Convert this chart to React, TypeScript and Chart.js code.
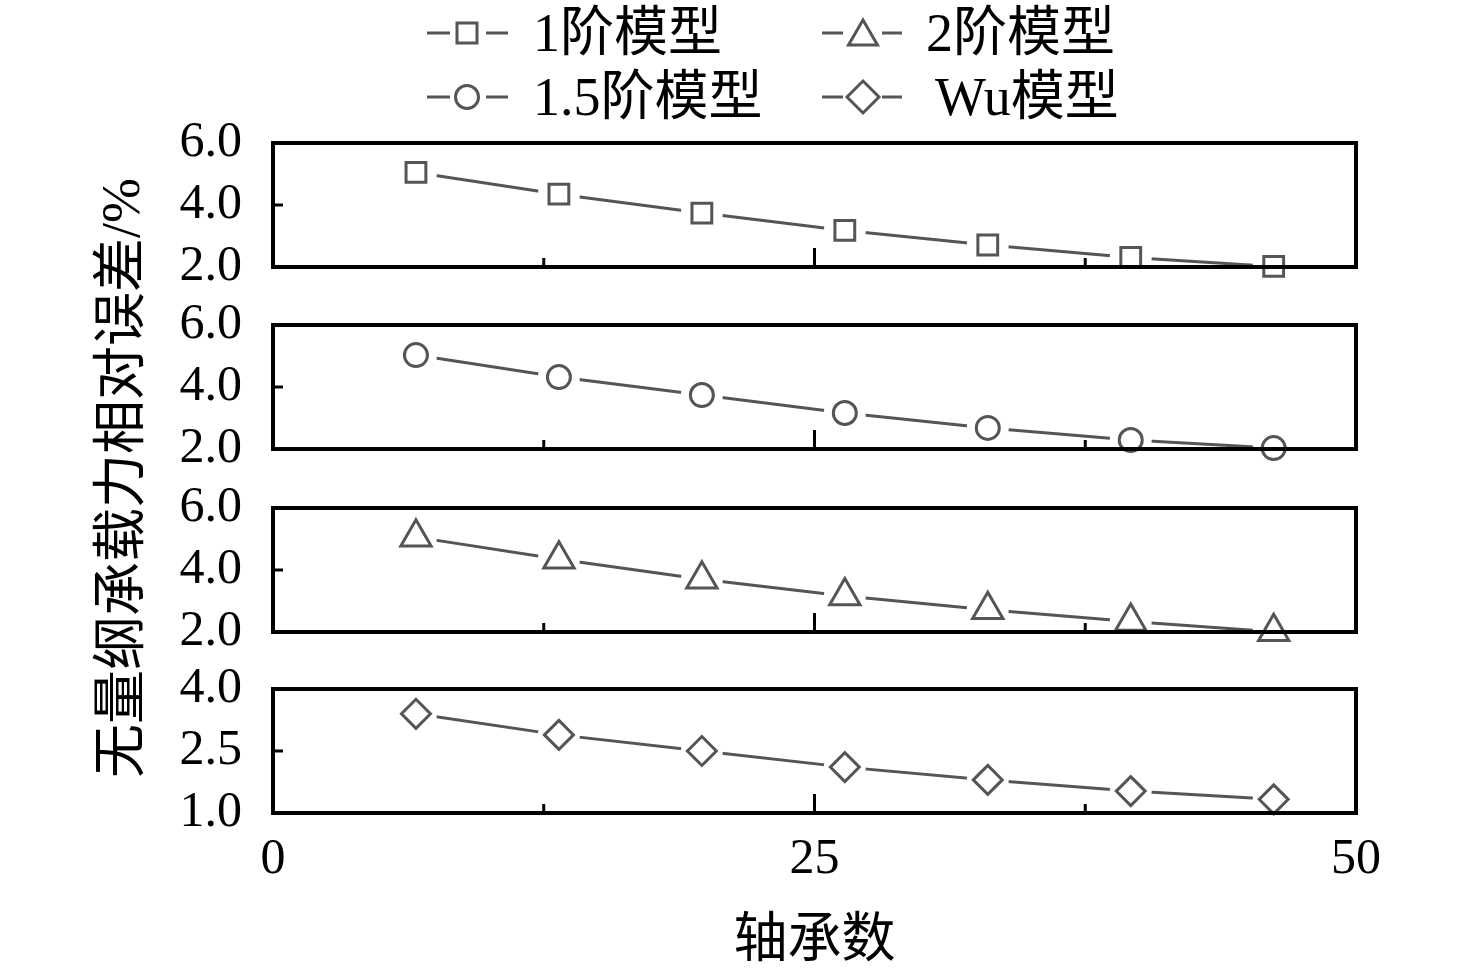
import React, { useEffect, useRef } from 'react';
import { Chart, registerables } from 'chart.js';

Chart.register(...registerables);

// bearing count (x) shared by all four panels
const bearingCounts = [6.6, 13.2, 19.8, 26.4, 33.0, 39.6, 46.2];

// relative error of dimensionless load capacity, %
const firstOrder = [5.05, 4.35, 3.74, 3.18, 2.71, 2.31, 2.02];
const oneHalfOrder = [5.03, 4.32, 3.74, 3.16, 2.68, 2.29, 2.03];
const secondOrder = [5.06, 4.35, 3.7, 3.16, 2.72, 2.34, 2.01];
const wuModel = [3.4, 2.89, 2.5, 2.11, 1.8, 1.53, 1.33];

const seriesNames = ['1阶模型', '1.5阶模型', '2阶模型', 'Wu模型'];
const xTickLabels = [0, 25, 50];
const yRangeUpper = [2, 6];
const yRangeWu = [1, 4];

const FONT = "'Liberation Serif', 'Noto Sans CJK SC', serif";
const GREY = '#555555';

type Panel = {
    name: string;
    values: number[];
    pointStyle: 'rect' | 'circle' | 'triangle' | 'rectRot';
    radius: number;
    range: number[];
    step: number;
    frameTop: number;
    last: boolean;
};

const panels: Panel[] = [
    { name: seriesNames[0], values: firstOrder, pointStyle: 'rect', radius: 14, range: yRangeUpper, step: 2, frameTop: 143, last: false },
    { name: seriesNames[1], values: oneHalfOrder, pointStyle: 'circle', radius: 11.5, range: yRangeUpper, step: 2, frameTop: 325, last: false },
    { name: seriesNames[2], values: secondOrder, pointStyle: 'triangle', radius: 17.5, range: yRangeUpper, step: 2, frameTop: 508, last: false },
    { name: seriesNames[3], values: wuModel, pointStyle: 'rectRot', radius: 14.5, range: yRangeWu, step: 1.5, frameTop: 689, last: true },
];

const FRAME_H = 124;
const PAD_TOP = 40;

// black box round the plot area plus inward tick marks
const framePlugin = {
    id: 'frame',
    afterDraw(chart: any) {
        const { ctx, chartArea: a, scales } = chart;
        ctx.save();
        ctx.strokeStyle = '#000';
        ctx.lineWidth = 3;
        scales.x.ticks.forEach((t: any) => {
            if (t.value <= scales.x.min || t.value >= scales.x.max) return;
            const px = scales.x.getPixelForValue(t.value);
            const len = t.value % 25 === 0 ? 19 : 9;
            ctx.beginPath();
            ctx.moveTo(px, a.bottom);
            ctx.lineTo(px, a.bottom - len);
            ctx.stroke();
        });
        scales.y.ticks.forEach((t: any) => {
            if (t.value <= scales.y.min || t.value >= scales.y.max) return;
            const py = scales.y.getPixelForValue(t.value);
            ctx.beginPath();
            ctx.moveTo(a.left, py);
            ctx.lineTo(a.left + 10, py);
            ctx.stroke();
        });
        ctx.lineWidth = 4;
        ctx.strokeRect(a.left, a.top, a.right - a.left, a.bottom - a.top);
        ctx.restore();
    },
};

function canvasBox(p: Panel) {
    const top = p.frameTop - PAD_TOP;
    const height = p.last ? 978 - top : FRAME_H + 2 * PAD_TOP;
    return { top, height };
}

function makeChart(canvas: HTMLCanvasElement, p: Panel) {
    const { height } = canvasBox(p);
    const pts = bearingCounts.map((x, i) => ({ x, y: p.values[i] }));
    return new Chart(canvas, {
        type: 'line',
        data: {
            datasets: [
                {
                    label: p.name,
                    data: pts,
                    borderColor: GREY,
                    borderWidth: 3,
                    tension: 0,
                    pointStyle: 'circle',
                    pointRadius: 21,
                    pointBackgroundColor: '#ffffff',
                    pointBorderWidth: 0,
                    clip: false as any,
                    order: 2,
                },
                {
                    label: p.name + ' marker',
                    data: pts,
                    showLine: false,
                    pointStyle: p.pointStyle,
                    pointRadius: p.radius,
                    pointBorderColor: GREY,
                    pointBorderWidth: 3,
                    pointBackgroundColor: '#ffffff',
                    clip: false as any,
                    order: 1,
                },
            ],
        },
        options: {
            animation: false,
            responsive: false,
            events: [],
            layout: { padding: { top: PAD_TOP, bottom: p.last ? 0 : PAD_TOP, left: 0, right: 120 } },
            plugins: { legend: { display: false }, tooltip: { enabled: false } },
            scales: {
                x: {
                    type: 'linear',
                    min: 0,
                    max: 50,
                    grid: { display: false },
                    border: { display: false },
                    ticks: {
                        display: p.last,
                        autoSkip: false,
                        maxRotation: 0,
                        stepSize: 12.5,
                        padding: 9,
                        color: '#000',
                        font: { family: FONT, size: 50 },
                        callback: (v: any) => (xTickLabels.includes(Number(v)) ? String(v) : ''),
                    },
                    title: {
                        display: p.last,
                        text: '轴承数',
                        color: '#000',
                        font: { family: FONT, size: 54 },
                        padding: { top: 0, bottom: 3 },
                    },
                    afterFit: (s: any) => {
                        s.height = p.last ? height - PAD_TOP - FRAME_H : 0;
                        s.paddingLeft = 0;
                        s.paddingRight = 0;
                    },
                },
                y: {
                    type: 'linear',
                    min: p.range[0],
                    max: p.range[1],
                    grid: { display: false },
                    border: { display: false },
                    ticks: {
                        autoSkip: false,
                        stepSize: p.step,
                        padding: 23,
                        color: '#000',
                        font: { family: FONT, size: 50 },
                        callback: (v: any) => Number(v).toFixed(1),
                    },
                    afterFit: (s: any) => {
                        s.width = 273;
                        s.paddingTop = 0;
                        s.paddingBottom = 0;
                    },
                },
            },
        },
        plugins: [framePlugin],
    });
}

function LegendMarker({ style, cx, cy }: { style: string; cx: number; cy: number }) {
    const common = { fill: 'none', stroke: GREY, strokeWidth: 3 };
    if (style === 'rect') return <rect x={cx - 10} y={cy - 10} width={20} height={20} {...common} />;
    if (style === 'circle') return <circle cx={cx} cy={cy} r={11.5} {...common} />;
    if (style === 'triangle')
        return <polygon points={`${cx},${cy - 13} ${cx - 14.5},${cy + 12} ${cx + 14.5},${cy + 12}`} {...common} />;
    return <polygon points={`${cx},${cy - 16} ${cx + 16},${cy} ${cx},${cy + 16} ${cx - 16},${cy}`} {...common} />;
}

function Legend() {
    const items = [
        { name: seriesNames[0], style: 'rect', col: 0, y: 33, tx: 533 },
        { name: seriesNames[2], style: 'triangle', col: 1, y: 33, tx: 926 },
        { name: seriesNames[1], style: 'circle', col: 0, y: 97, tx: 533 },
        { name: seriesNames[3], style: 'rectRot', col: 1, y: 97, tx: 935 },
    ];
    const cols = [
        { d1: [427, 450], mx: 467, d2: [486, 508] },
        { d1: [822, 843], mx: 863, d2: [882, 902] },
    ];
    return (
        <svg width={1476} height={130} style={{ position: 'absolute', left: 0, top: 0 }}>
            {items.map((it) => {
                const c = cols[it.col];
                return (
                    <g key={it.name}>
                        <line x1={c.d1[0]} x2={c.d1[1]} y1={it.y} y2={it.y} stroke={GREY} strokeWidth={3} />
                        <line x1={c.d2[0]} x2={c.d2[1]} y1={it.y} y2={it.y} stroke={GREY} strokeWidth={3} />
                        <LegendMarker style={it.style} cx={c.mx} cy={it.y} />
                        <text x={it.tx} y={it.y} dominantBaseline="central" fontFamily={FONT} fontSize={54} fill="#000">
                            {it.name}
                        </text>
                    </g>
                );
            })}
        </svg>
    );
}

export default function App() {
    const refs = useRef<(HTMLCanvasElement | null)[]>([]);

    useEffect(() => {
        const charts = panels.map((p, i) => makeChart(refs.current[i] as HTMLCanvasElement, p));
        return () => {
            charts.forEach((c) => c.destroy());
        };
    }, []);

    return (
        <div style={{ position: 'absolute', left: 0, top: 0, width: 1476, height: 978, background: '#fff', overflow: 'hidden' }}>
            <Legend />
            {panels.map((p, i) => {
                const box = canvasBox(p);
                return (
                    <canvas
                        key={p.name}
                        ref={(el) => {
                            refs.current[i] = el;
                        }}
                        width={1476}
                        height={box.height}
                        style={{ position: 'absolute', left: 0, top: box.top, width: 1476, height: box.height }}
                    />
                );
            })}
            <div
                style={{
                    position: 'absolute',
                    left: 121,
                    top: 478,
                    transform: 'translate(-50%, -50%) rotate(-90deg)',
                    fontFamily: FONT,
                    fontSize: 54,
                    lineHeight: 1,
                    whiteSpace: 'nowrap',
                    color: '#000',
                }}
            >
                无量纲承载力相对误差/%
            </div>
        </div>
    );
}
